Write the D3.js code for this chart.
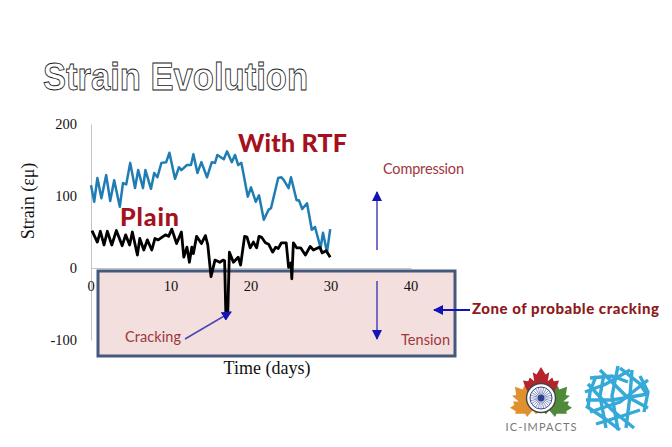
<!DOCTYPE html>
<html><head><meta charset="utf-8">
<script src="https://cdn.jsdelivr.net/npm/d3@7"></script>
<style>html,body{margin:0;padding:0;background:#fff;overflow:hidden}svg{display:block}</style>
</head><body><svg id="c" width="672" height="447"></svg>
<script>
const rtfDays=[0,0.4,0.8,1.3,1.9,2.4,2.9,3.6,4.0,4.4,4.9,5.5,5.9,6.5,6.8,7.5,7.9,8.3,8.8,9.4,9.8,10.5,11.0,11.3,12,12.5,12.8,13.3,13.8,14.5,15.1,15.5,15.8,16.6,17,17.6,18,18.4,18.8,19.6,20,20.6,21,21.6,22.2,22.5,23.4,23.8,24.1,24.7,25,25.7,26,26.4,27,27.6,28,28.7,29,29.5,29.9];
const rtfValues=[115,92,125,97,129,93,122,85,118,116,146,111,136,111,136,110,132,126,146,147,160,124,140,136,143,143,158,132,147,126,147,146,157,151,162,147,157,143,146,99,112,92,101,67,81,83,125,126,122,111,126,94,94,82,90,53,57,28,49,22,54];
const plainDays=[0.12,0.79,1.17,1.63,2.04,2.6,3.17,3.9,4.33,4.83,5.17,5.8,6.1,6.6,7.04,7.6,8,8.4,9.3,9.7,10.1,10.7,11.3,11.6,12,12.3,12.6,12.8,13.2,13.8,14.3,14.6,15,15.5,16.1,16.5,16.7,16.85,17.1,17.3,17.8,18.4,18.7,19.2,19.5,19.9,20.3,20.7,21,21.3,21.8,22.2,22.7,23.1,23.4,23.8,24.4,24.7,25,25.1,25.3,25.7,26.2,26.8,27.4,27.8,28.2,28.6,28.9,29.4,29.9];
const plainValues=[52,36,51,32,51,32,52,31,46,32,50,18,41,25,39,25,41,39,46,44,54,34,50,15,29,8,29,20,44,34,45,32,-12,11,8,11,10,-62,-62,22,8,15,4,44,43,28,36,28,44,43,35,33,22,29,27,35,35,1,7,-15,35,28,28,18,30,25,27,29,21,24,15];
const xTicks=[0,10,20,30,40];
const yTicks=[200,100,0,-100];

const svg=d3.select("#c");
const x=d3.scaleLinear().domain([0,40]).range([91,411]);
const y=d3.scaleLinear().domain([-100,200]).range([340,124]);
const serif="'Liberation Serif','Times New Roman',serif";
const sans="Lato,'Open Sans',sans-serif";

const defs=svg.append("defs");
defs.append("marker").attr("id","ah").attr("viewBox","0 0 10 10").attr("refX",9).attr("refY",5)
 .attr("markerWidth",10).attr("markerHeight",10).attr("markerUnits","userSpaceOnUse").attr("orient","auto")
 .append("path").attr("d","M0,0L10,5L0,10Z").attr("fill","#1414b4");

svg.append("text").attr("x",43).attr("y",90).text("Strain Evolution")
 .attr("font-family","'Liberation Sans',Arial,sans-serif").attr("font-weight",700).attr("font-size",39)
 .attr("textLength",265).attr("lengthAdjust","spacingAndGlyphs")
 .attr("fill","#fff").attr("stroke","#222").attr("stroke-width",0.9);

const yAxis=d3.axisLeft(y).tickValues([]).tickSize(0);
const xAxis=d3.axisBottom(x).tickValues([]).tickSize(0);
svg.append("g").attr("transform","translate(91,0)").call(yAxis).select(".domain").attr("stroke","#c4c4c4");
svg.append("g").attr("transform",`translate(0,${y(0)})`).call(xAxis).select(".domain").attr("stroke","#c4c4c4");

svg.append("rect").attr("x",98).attr("y",271).attr("width",357).attr("height",85)
 .attr("fill","#f3dfde").attr("stroke","#44597c").attr("stroke-width",3);

svg.selectAll(".xt").data(xTicks).join("text").attr("x",d=>x(d)).attr("y",291)
 .attr("text-anchor","middle").attr("font-family",serif).attr("font-size",14.5).attr("fill","#111").text(d=>d);
svg.selectAll(".yt").data(yTicks).join("text").attr("x",77).attr("y",d=>y(d)+5)
 .attr("text-anchor","end").attr("font-family",serif).attr("font-size",14.5).attr("fill","#111").text(d=>d);

svg.append("text").attr("transform","translate(34,201) rotate(-90)").attr("text-anchor","middle")
 .attr("font-family",serif).attr("font-size",18).attr("fill","#111").text("Strain (εμ)");
svg.append("text").attr("x",267).attr("y",374).attr("text-anchor","middle")
 .attr("font-family",serif).attr("font-size",18).attr("fill","#111").text("Time (days)");

const line=d3.line().x(d=>x(d[0])).y(d=>y(d[1]));
svg.append("path").attr("d",line(d3.zip(rtfDays,rtfValues))).attr("fill","none").attr("stroke","#1f7db3").attr("stroke-width",2.5).attr("stroke-linejoin","round");
svg.append("path").attr("d",line(d3.zip(plainDays,plainValues))).attr("fill","none").attr("stroke","#000").attr("stroke-width",2.8).attr("stroke-linejoin","round");

const red="#a5111c";
svg.append("text").attr("x",238).attr("y",152).attr("font-family",sans).attr("font-weight",900).attr("font-size",25).attr("fill",red).attr("textLength",109).text("With RTF");
svg.append("text").attr("x",120).attr("y",226).attr("font-family",sans).attr("font-weight",900).attr("font-size",25).attr("fill",red).attr("textLength",59).text("Plain");
const soft="#a0363c";
svg.append("text").attr("x",383).attr("y",174).attr("font-family",sans).attr("font-size",14.5).attr("fill",soft).attr("textLength",81).text("Compression");
svg.append("text").attr("x",401).attr("y",345).attr("font-family",sans).attr("font-size",14.5).attr("fill",soft).attr("textLength",49).text("Tension");
svg.append("text").attr("x",125).attr("y",342).attr("font-family",sans).attr("font-size",14.5).attr("fill",soft).attr("textLength",56).text("Cracking");
svg.append("text").attr("x",472).attr("y",314).attr("font-family",sans).attr("font-weight",900).attr("font-size",15).attr("fill","#8c1a20").attr("textLength",187).text("Zone of probable cracking");

function arrow(x1,y1,x2,y2,c,w){svg.append("line").attr("x1",x1).attr("y1",y1).attr("x2",x2).attr("y2",y2)
 .attr("stroke",c||"#4a45b8").attr("stroke-width",w||1.5).attr("marker-end","url(#ah)");}
arrow(377,250,377,192);
arrow(377,281,377,339);
arrow(470,310,434,310,"#1414b4",1.8);
arrow(185,339,231,312);

const leaf="M0,-24L6,-14L11,-17L9,-5L15,-10L17,-5L24,-6L21,3L24,5L13,14L14,19L2,17L2,24L-2,24L-2,17L-14,19L-13,14L-24,5L-21,3L-24,-6L-17,-5L-15,-10L-9,-5L-11,-17L-6,-14Z";
const logo=svg.append("g");
logo.append("path").attr("d",leaf).attr("transform","translate(541,385) scale(.75)").attr("fill","#b5232c");
logo.append("path").attr("d",leaf).attr("transform","translate(526,400) rotate(-40) scale(.72)").attr("fill","#e0912f");
logo.append("path").attr("d",leaf).attr("transform","translate(556,400) rotate(40) scale(.72)").attr("fill","#4f8a3a");
logo.append("circle").attr("cx",541).attr("cy",398).attr("r",14.5).attr("fill","#fff").attr("stroke","#444").attr("stroke-width",1.4);
const wheel=logo.append("g").attr("transform","translate(541,398)");
wheel.append("circle").attr("r",11).attr("fill","none").attr("stroke","#33478f");
d3.range(24).forEach(i=>wheel.append("line").attr("x2",11).attr("transform",`rotate(${i*15})`).attr("stroke","#4a5aa0").attr("stroke-width",.6));
wheel.append("circle").attr("r",3.2).attr("fill","#2b3f8c");
svg.append("text").attr("x",541).attr("y",431).attr("text-anchor","middle").attr("font-family",sans).attr("font-size",11).attr("fill","#777").attr("textLength",71).text("IC-IMPACTS");

const globe=[[[590,378],[612,376],[628,382]],[[585,392],[606,384],[630,370]],[[586,400],[612,400],[648,394]],[[590,412],[620,402],[648,380]],[[596,424],[622,416],[640,410]],[[604,374],[600,396],[606,428]],[[618,366],[612,396],[618,430]],[[632,370],[630,396],[626,428]],[[588,384],[612,410],[634,428]],[[600,370],[626,396],[648,408]],[[586,406],[604,418],[620,430]],[[620,368],[640,384],[648,396]],[[596,376],[590,392],[588,408]],[[640,376],[648,392],[644,412]]];
const gl=d3.line();
svg.append("g").selectAll("path").data(globe).join("path").attr("d",d=>gl(d)).attr("fill","none").attr("stroke","#35aad8").attr("stroke-width",3.4);
</script></body></html>
